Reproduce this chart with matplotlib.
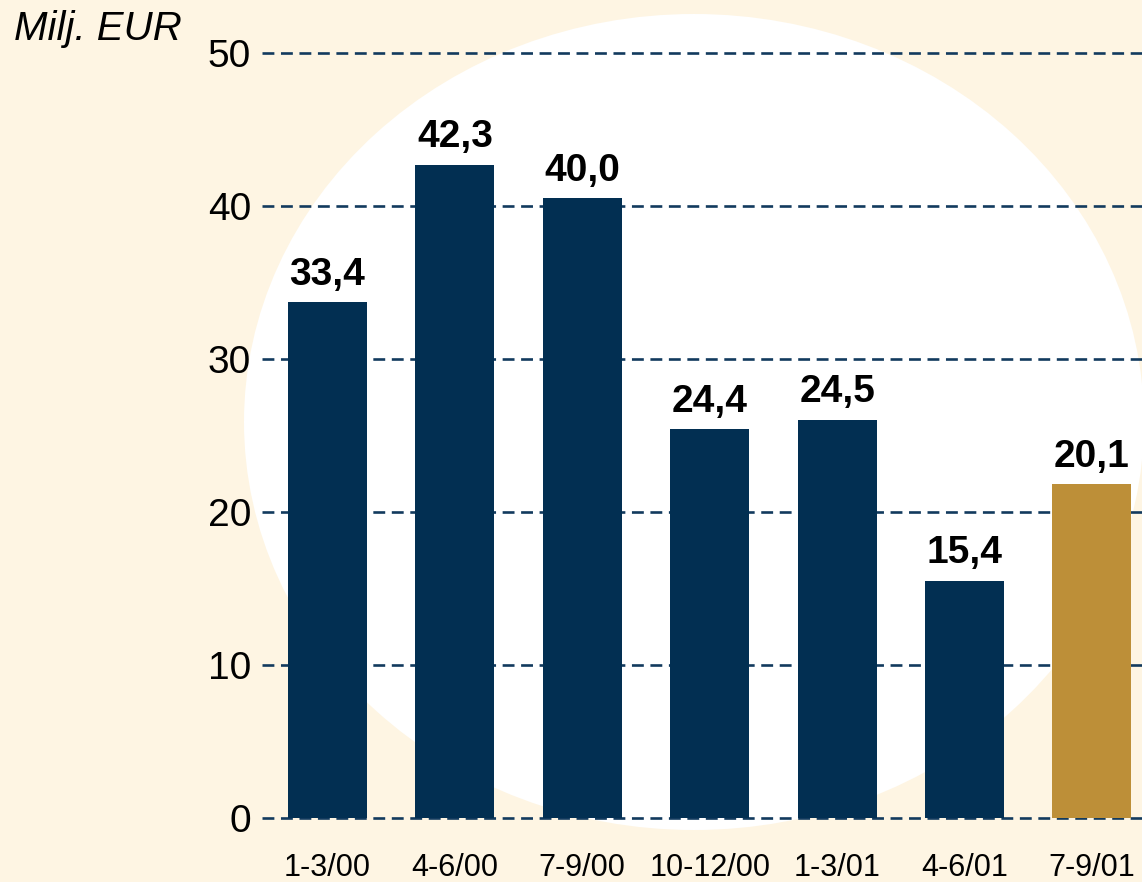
import matplotlib
matplotlib.use("Agg")
import matplotlib.pyplot as plt
from matplotlib.patches import Ellipse

categories = ["1-3/00", "4-6/00", "7-9/00", "10-12/00", "1-3/01", "4-6/01", "7-9/01"]
bar_heights = [33.7, 42.7, 40.5, 25.4, 26.0, 15.5, 21.8]
label_values = [33.4, 42.3, 40.0, 24.4, 24.5, 15.4, 20.1]
bar_colors = ["#022F52"] * 6 + ["#BD8F38"]
yticks = [0, 10, 20, 30, 40, 50]

plt.rcParams['font.family'] = ['Liberation Sans', 'DejaVu Sans']

W, H = 1142, 882
fig = plt.figure(figsize=(W / 100, H / 100), dpi=100)
bg = "#FEF5E3"
fig.patch.set_facecolor(bg)

ell = Ellipse((694 / W, 1 - 422 / H), 900 / W, 816 / H, transform=fig.transFigure,
              facecolor="white", edgecolor="none", zorder=0)
fig.patches.append(ell)

ax = fig.add_axes([262 / W, (H - 818) / H, 880 / W, 765 / H])
ax.set_facecolor("none")
ax.set_zorder(1)

x = list(range(len(categories)))
ax.bar(x, bar_heights, width=0.62, color=bar_colors, zorder=3)

for xi, h, v in zip(x, bar_heights, label_values):
    ax.annotate(f"{v:.1f}".replace(".", ","), (xi, h), xytext=(0, 7),
                textcoords="offset points", ha="center", va="bottom",
                fontsize=28, fontweight="bold", color="black", clip_on=False)

for t in yticks:
    ax.axhline(t, color="#123A5E", lw=1.9, linestyle=(0, (4.5, 2.5)), zorder=2, clip_on=False)

ax.set_xlim(-0.514, 6.393)
ax.set_ylim(0, 50)
ax.set_yticks(yticks)
ax.set_yticklabels([str(t) for t in yticks], fontsize=28)
ax.set_xticks(x)
ax.set_xticklabels(categories, fontsize=22)
ax.tick_params(axis="y", length=0, pad=8)
ax.tick_params(axis="x", length=0, pad=25)
for s in ax.spines.values():
    s.set_visible(False)

fig.text(14 / W, 1 - 40 / H, "Milj. EUR", fontsize=29, style="italic", ha="left", va="baseline")

fig.savefig("out.png", dpi=100, facecolor=bg)
